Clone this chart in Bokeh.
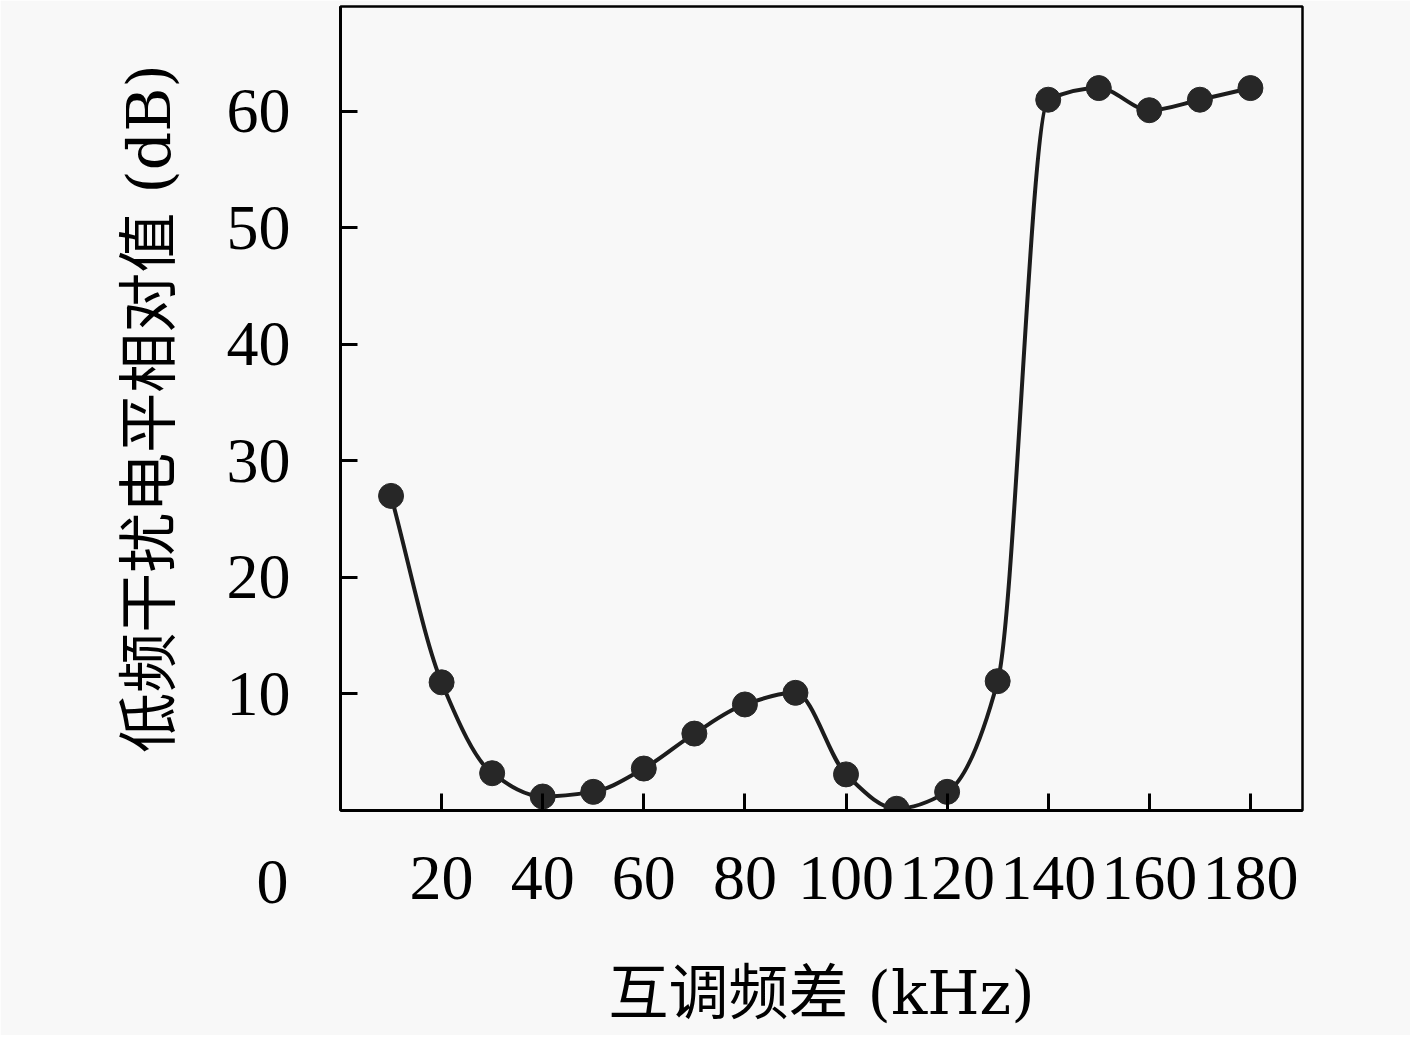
from bokeh.plotting import figure
from bokeh.models import Range1d, FixedTicker, Title
from bokeh.embed import file_html
from bokeh.resources import INLINE

# 互调频差 (kHz) 与 低频干扰电平相对值 (dB)
freq = [10, 20, 30, 40, 50, 60, 70, 80, 90, 100, 110, 120, 130, 140, 150, 160, 170, 180]
level = [27, 11, 3.2, 1.2, 1.6, 3.6, 6.6, 9.1, 10.1, 3.1, 0.15, 1.6, 11.1, 61, 62, 60.1, 61, 62]
x_ticks = [20, 40, 60, 80, 100, 120, 140, 160, 180]
y_ticks = [10, 20, 30, 40, 50, 60]

label_font = "DejaVu Serif, Noto Sans CJK SC"

# monotone cubic through the points, drawn as bezier pieces
n = len(freq)
h = [freq[i + 1] - freq[i] for i in range(n - 1)]
d = [(level[i + 1] - level[i]) / h[i] for i in range(n - 1)]
m = [d[0]] + [0.0] * (n - 2) + [d[-1]]
for k in range(1, n - 1):
    if d[k - 1] * d[k] <= 0:
        m[k] = 0.0
    else:
        w1 = 2 * h[k] + h[k - 1]
        w2 = h[k] + 2 * h[k - 1]
        m[k] = (w1 + w2) / (w1 / d[k - 1] + w2 / d[k])
x0 = freq[:-1]
y0 = level[:-1]
x1 = freq[1:]
y1 = level[1:]
cx0 = [freq[i] + h[i] / 3 for i in range(n - 1)]
cy0 = [level[i] + m[i] * h[i] / 3 for i in range(n - 1)]
cx1 = [freq[i + 1] - h[i] / 3 for i in range(n - 1)]
cy1 = [level[i + 1] - m[i + 1] * h[i] / 3 for i in range(n - 1)]

p = figure(width=1410, height=1035, x_range=Range1d(0, 190.3), y_range=Range1d(0, 69),
           output_backend="svg", toolbar_location=None,
           min_border_left=340, min_border_right=108, min_border_top=6, min_border_bottom=225)
p.background_fill_color = "#f8f8f8"
p.border_fill_color = "#f8f8f8"
p.grid.visible = False
p.outline_line_color = "black"
p.outline_line_width = 2.5

p.xaxis.ticker = FixedTicker(ticks=x_ticks)
p.yaxis.ticker = FixedTicker(ticks=y_ticks)
for ax in (p.xaxis, p.yaxis):
    ax.major_tick_in = 17
    ax.major_tick_out = 0
    ax.minor_tick_in = 0
    ax.minor_tick_out = 0
    ax.axis_line_width = 3
    ax.major_tick_line_width = 3
    ax.axis_line_color = "black"
    ax.major_tick_line_color = "black"
    ax.major_label_text_font = "Liberation Serif"
    ax.major_label_text_font_size = "64px"
    ax.major_label_text_color = "black"
    ax.axis_label_text_font = label_font
    ax.axis_label_text_font_size = "60px"
    ax.axis_label_text_font_style = "normal"
    ax.axis_label_text_color = "black"

p.xaxis.major_label_standoff = 46
p.yaxis.major_label_standoff = 50
p.xaxis.axis_label = "互调频差 (kHz)"
p.yaxis.axis_label = "低频干扰电平相对值 (dB)"
p.xaxis.axis_label_standoff = 56
p.yaxis.axis_label_standoff = 40

# shared origin label, pulled up into the x tick label row left of the frame
p.add_layout(Title(text="0", align="left", vertical_align="top", offset=-84, standoff=-340,
                   text_font="Liberation Serif", text_font_size="64px",
                   text_font_style="normal", text_color="black"), "below")

p.bezier(x0=x0, y0=y0, x1=x1, y1=y1, cx0=cx0, cy0=cy0, cx1=cx1, cy1=cy1,
         line_color="#1c1c1c", line_width=4)
p.scatter(freq, level, size=25, fill_color="#272727", line_color="#272727")

open("out.html", "w").write(file_html(p, INLINE))
